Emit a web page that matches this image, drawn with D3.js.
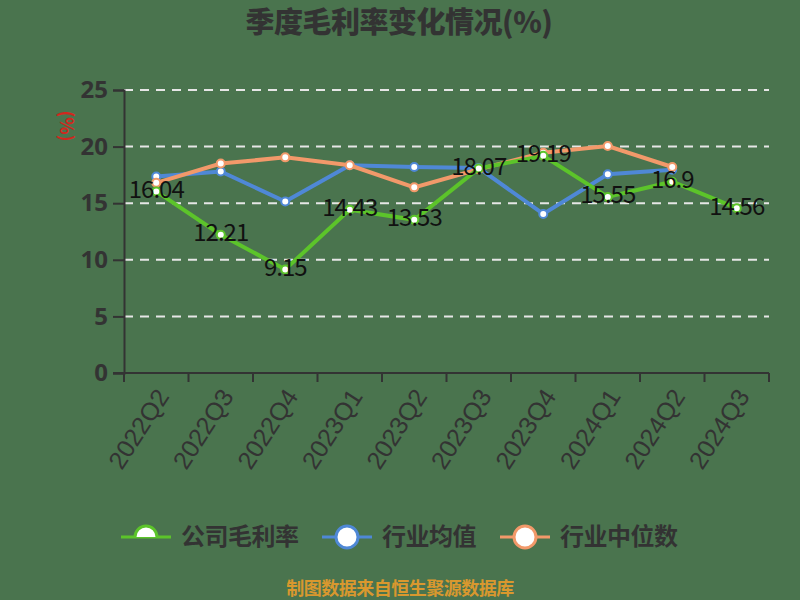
<!DOCTYPE html>
<html>
<head>
<meta charset="utf-8">
<script src="https://cdn.jsdelivr.net/npm/d3@7"></script>
<style>
  body { margin: 0; background: #4a744e; }
  svg { display: block; font-family: "Noto Sans CJK SC", "Noto Sans", sans-serif; }
</style>
</head>
<body>
<div id="chart"></div>
<script>
const quarters = ['2022Q2', '2022Q3', '2022Q4', '2023Q1', '2023Q2', '2023Q3', '2023Q4', '2024Q1', '2024Q2', '2024Q3'];
const companyMargin = [16.04, 12.21, 9.15, 14.43, 13.53, 18.07, 19.19, 15.55, 16.9, 14.56];
const industryAvg = [17.35, 17.8, 15.15, 18.35, 18.2, 18.1, 14.05, 17.55, 17.95, null];
const industryMedian = [16.8, 18.5, 19.05, 18.35, 16.4, 18.0, 19.45, 20.05, 18.2, null];
const yTicks = [0, 5, 10, 15, 20, 25];

const series = [
    {name: '公司毛利率', values: companyMargin, color: '#5cc42a', labels: true},
    {name: '行业均值', values: industryAvg, color: '#4f88d6'},
    {name: '行业中位数', values: industryMedian, color: '#f2996a'}
];

const width = 800, height = 600;
const margin = {top: 90, right: 31, bottom: 227, left: 124};

const svg = d3.select('#chart').append('svg')
    .attr('width', width)
    .attr('height', height);

svg.append('rect').attr('width', width).attr('height', height).attr('fill', '#4a744e');

const x = d3.scaleBand()
    .domain(quarters)
    .range([margin.left, width - margin.right]);

const y = d3.scaleLinear()
    .domain([0, 25])
    .range([height - margin.bottom, margin.top]);

const cx = d => x(d) + x.bandwidth() / 2;

// title
svg.append('text')
    .attr('x', 399)
    .attr('y', 33)
    .attr('text-anchor', 'middle')
    .attr('font-size', 29)
    .attr('font-weight', 900)
    .attr('letter-spacing', -0.5)
    .attr('fill', '#333')
    .text('季度毛利率变化情况(%)');

// grid lines
svg.append('g')
    .selectAll('line')
    .data(yTicks.filter(t => t > 0))
    .join('line')
    .attr('x1', margin.left)
    .attr('x2', width - margin.right)
    .attr('y1', d => y(d))
    .attr('y2', d => y(d))
    .attr('stroke', '#e6e6e6')
    .attr('stroke-width', 2)
    .attr('stroke-dasharray', '9,7');

// y axis
const yAxis = svg.append('g')
    .attr('transform', `translate(${margin.left},0)`)
    .call(d3.axisLeft(y).tickValues(yTicks).tickSize(11).tickPadding(5));
yAxis.selectAll('text')
    .attr('font-size', 24)
    .attr('fill', '#333')
    .attr('font-family', '"Liberation Sans Narrow", "Noto Sans", sans-serif')
    .attr('font-weight', 'bold');
yAxis.selectAll('line, path').attr('stroke', '#333').attr('stroke-width', 2);

// y unit
svg.append('text')
    .attr('transform', 'translate(60,126) rotate(90)')
    .attr('text-anchor', 'middle')
    .attr('font-size', 18)
    .attr('font-weight', 'bold')
    .attr('fill', '#d0281e')
    .text('(%)');

// x axis
const xAxis = svg.append('g')
    .attr('transform', `translate(0,${height - margin.bottom})`)
    .call(d3.axisBottom(x).tickSize(0).tickSizeOuter(0));
xAxis.select('.domain')
    .attr('d', `M${margin.left - 11},0H${width - margin.right}`)
    .attr('stroke', '#333').attr('stroke-width', 2);
xAxis.append('g')
    .selectAll('line')
    .data(quarters.concat(['end']))
    .join('line')
    .attr('x1', (d, i) => margin.left + i * x.step())
    .attr('x2', (d, i) => margin.left + i * x.step())
    .attr('y1', 0)
    .attr('y2', 9)
    .attr('stroke', '#333')
    .attr('stroke-width', 2);
xAxis.selectAll('.tick text')
    .attr('font-size', 25)
    .attr('fill', '#333')
    .attr('text-anchor', 'end')
    .attr('dy', '0.35em')
    .attr('transform', 'translate(4,17) rotate(-57)');

// lines
const line = d3.line()
    .defined(d => d.v != null)
    .x(d => cx(d.q))
    .y(d => y(d.v));

const order = [series[1], series[2], series[0]];
order.forEach(s => {
    const pts = quarters.map((q, i) => ({q, v: s.values[i]}));
    const g = svg.append('g');
    g.append('path')
        .datum(pts)
        .attr('d', line)
        .attr('fill', 'none')
        .attr('stroke', s.color)
        .attr('stroke-width', 4);
    g.selectAll('circle')
        .data(pts.filter(d => d.v != null))
        .join('circle')
        .attr('cx', d => cx(d.q))
        .attr('cy', d => y(d.v))
        .attr('r', 4)
        .attr('fill', '#fff')
        .attr('stroke', s.color)
        .attr('stroke-width', 2);
});

// data labels
svg.append('g')
    .selectAll('text')
    .data(quarters.map((q, i) => ({q, v: companyMargin[i]})))
    .join('text')
    .attr('x', d => cx(d.q))
    .attr('y', d => y(d.v) - 2)
    .attr('dy', '0.35em')
    .attr('text-anchor', 'middle')
    .attr('font-size', 24)
    .attr('letter-spacing', -1)
    .attr('fill', '#111')
    .text(d => d.v);

// legend
const legendX = [121, 322, 500];
const legend = svg.append('g').attr('transform', 'translate(0,537)');
svg.append('defs').append('clipPath').attr('id', 'half')
    .append('rect').attr('x', 0).attr('y', -20).attr('width', 800).attr('height', 20);
series.forEach((s, i) => {
    const g = legend.append('g').attr('transform', `translate(${legendX[i]},0)`);
    g.append('line')
        .attr('x1', 0).attr('x2', 50)
        .attr('stroke', s.color).attr('stroke-width', 3);
    g.append('circle')
        .attr('cx', 25).attr('r', 11)
        .attr('fill', '#fff')
        .attr('stroke', s.color)
        .attr('stroke-width', 3)
        .attr('clip-path', i === 0 ? 'url(#half)' : null);
    g.append('text')
        .attr('x', 60)
        .attr('dy', '0.35em')
        .attr('font-size', 24)
        .attr('font-weight', 'bold')
        .attr('letter-spacing', -0.5)
        .attr('fill', '#333')
        .text(s.name);
});

// footer
svg.append('text')
    .attr('x', 400)
    .attr('y', 589)
    .attr('dy', '0.35em')
    .attr('text-anchor', 'middle')
    .attr('font-size', 18)
    .attr('font-weight', 'bold')
    .attr('letter-spacing', -0.5)
    .attr('fill', '#d9982e')
    .text('制图数据来自恒生聚源数据库');
</script>
</body>
</html>
